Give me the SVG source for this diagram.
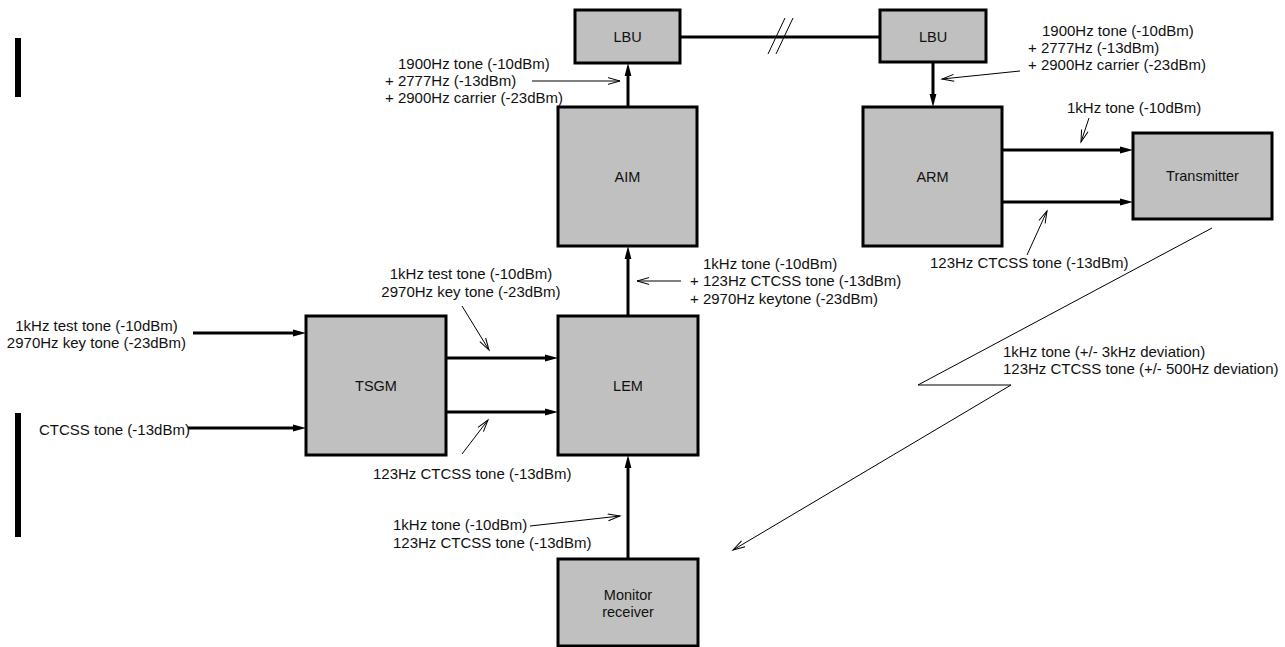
<svg xmlns="http://www.w3.org/2000/svg" width="1285" height="647" viewBox="0 0 1285 647">
<style>
.box{fill:#c0c0c0;stroke:#000;stroke-width:3}
.lbl{font-family:"Liberation Sans",Arial,sans-serif;font-size:14.5px;text-anchor:middle;fill:#111}
.ann{font-family:"Liberation Sans",Arial,sans-serif;font-size:15px;fill:#111}
.mid{text-anchor:middle}
.wire{stroke:#000;stroke-width:3;fill:none}
.thin{stroke:#000;stroke-width:1;fill:none}
.bar{fill:#000}
</style>
<defs>
<marker id="ah" markerUnits="userSpaceOnUse" markerWidth="14" markerHeight="8" refX="3" refY="4" orient="auto" overflow="visible">
<path d="M0,0.6 L13,4 L0,7.4 z" fill="#000"/>
</marker>
<marker id="oa" markerUnits="userSpaceOnUse" markerWidth="14" markerHeight="10" refX="12" refY="5" orient="auto" overflow="visible">
<path d="M0,1.6 L12,5 L0,8.4" fill="none" stroke="#000" stroke-width="1"/>
</marker>
</defs>
<rect class="bar" x="15" y="38" width="6" height="59"/>
<rect class="bar" x="15" y="413" width="6" height="124"/>
<g id="lbu-left"><rect class="box" x="575" y="10" width="105" height="53"/><text class="lbl" x="627.5" y="42">LBU</text></g>
<g id="lbu-right"><rect class="box" x="880" y="10" width="106" height="52"/><text class="lbl" x="933" y="42">LBU</text></g>
<g id="aim"><rect class="box" x="558" y="107" width="139" height="139"/><text class="lbl" x="627.5" y="182">AIM</text></g>
<g id="arm"><rect class="box" x="863" y="107" width="139" height="139"/><text class="lbl" x="932.5" y="182">ARM</text></g>
<g id="transmitter"><rect class="box" x="1133" y="133" width="139" height="86"/><text class="lbl" x="1202.5" y="181">Transmitter</text></g>
<g id="tsgm"><rect class="box" x="306" y="316" width="140" height="139"/><text class="lbl" x="376" y="391">TSGM</text></g>
<g id="lem"><rect class="box" x="558" y="316" width="140" height="139"/><text class="lbl" x="628" y="391">LEM</text></g>
<g id="monitor"><rect class="box" x="558" y="559" width="140" height="87"/><text class="lbl" x="628" y="600">Monitor</text><text class="lbl" x="628" y="617">receiver</text></g>
<g id="connectors">
<line class="wire" x1="680" y1="37" x2="880" y2="37"/>
<line class="thin" x1="768" y1="54" x2="785" y2="18"/>
<line class="thin" x1="776" y1="54" x2="793" y2="18"/>
<line class="wire" x1="628" y1="107" x2="628" y2="73" marker-end="url(#ah)"/>
<line class="wire" x1="933" y1="62" x2="933" y2="97" marker-end="url(#ah)"/>
<line class="wire" x1="628" y1="316" x2="628" y2="256" marker-end="url(#ah)"/>
<line class="wire" x1="628" y1="559" x2="628" y2="465" marker-end="url(#ah)"/>
<line class="wire" x1="193" y1="333" x2="296" y2="333" marker-end="url(#ah)"/>
<line class="wire" x1="188" y1="428" x2="296" y2="428" marker-end="url(#ah)"/>
<line class="wire" x1="446" y1="358" x2="548" y2="358" marker-end="url(#ah)"/>
<line class="wire" x1="446" y1="412" x2="548" y2="412" marker-end="url(#ah)"/>
<line class="wire" x1="1002" y1="150" x2="1123" y2="150" marker-end="url(#ah)"/>
<line class="wire" x1="1002" y1="202" x2="1123" y2="202" marker-end="url(#ah)"/>
<line class="thin" x1="532" y1="81" x2="620" y2="81" marker-end="url(#oa)"/>
<line class="thin" x1="1020" y1="71" x2="942" y2="79" marker-end="url(#oa)"/>
<line class="thin" x1="1089" y1="118" x2="1081" y2="142" marker-end="url(#oa)"/>
<line class="thin" x1="1027" y1="255" x2="1047" y2="211" marker-end="url(#oa)"/>
<line class="thin" x1="681" y1="281" x2="637" y2="281" marker-end="url(#oa)"/>
<line class="thin" x1="462" y1="306" x2="489" y2="350" marker-end="url(#oa)"/>
<line class="thin" x1="462" y1="454" x2="488" y2="420" marker-end="url(#oa)"/>
<line class="thin" x1="530" y1="526" x2="620" y2="516" marker-end="url(#oa)"/>
<polyline class="thin" points="1212,228 918,385 1011,385 733,550" marker-end="url(#oa)"/>
</g>
<g id="labels">
<text class="ann" x="398" y="69">1900Hz tone (-10dBm)</text>
<text class="ann" x="385" y="86">+ 2777Hz (-13dBm)</text>
<text class="ann" x="385" y="103">+ 2900Hz carrier (-23dBm)</text>
<text class="ann" x="1042" y="36">1900Hz tone (-10dBm)</text>
<text class="ann" x="1028" y="53">+ 2777Hz (-13dBm)</text>
<text class="ann" x="1028" y="70">+ 2900Hz carrier (-23dBm)</text>
<text class="ann" x="1067" y="113">1kHz tone (-10dBm)</text>
<text class="ann" x="930" y="268">123Hz CTCSS tone (-13dBm)</text>
<text class="ann" x="703" y="269">1kHz tone (-10dBm)</text>
<text class="ann" x="690" y="286">+ 123Hz CTCSS tone (-13dBm)</text>
<text class="ann" x="690" y="304">+ 2970Hz keytone (-23dBm)</text>
<text class="ann mid" x="471" y="279">1kHz test tone (-10dBm)</text>
<text class="ann mid" x="471" y="297">2970Hz key tone (-23dBm)</text>
<text class="ann mid" x="96.5" y="331">1kHz test tone (-10dBm)</text>
<text class="ann mid" x="96.5" y="348">2970Hz key tone (-23dBm)</text>
<text class="ann" x="39" y="435">CTCSS tone (-13dBm)</text>
<text class="ann" x="373" y="479">123Hz CTCSS tone (-13dBm)</text>
<text class="ann" x="393" y="530">1kHz tone (-10dBm)</text>
<text class="ann" x="393" y="548">123Hz CTCSS tone (-13dBm)</text>
<text class="ann" x="1003" y="357">1kHz tone (+/- 3kHz deviation)</text>
<text class="ann" x="1003" y="374">123Hz CTCSS tone (+/- 500Hz deviation)</text>
</g>
</svg>
